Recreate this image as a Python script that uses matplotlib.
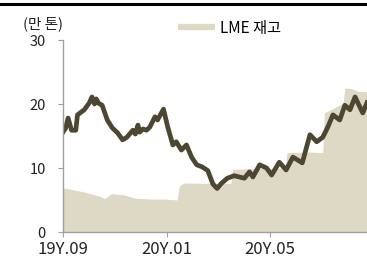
import pandas as pd
import matplotlib
matplotlib.use("Agg")
import matplotlib.pyplot as plt
from matplotlib.lines import Line2D

plt.rcParams['font.family'] = ['Noto Sans CJK KR', 'DejaVu Sans']

# dark line (no legend entry in the crop)
line_dates = ['2019-09-01', '2019-09-04', '2019-09-07', '2019-09-11', '2019-09-16', '2019-09-18',
              '2019-09-26', '2019-10-02', '2019-10-05', '2019-10-08', '2019-10-10', '2019-10-13',
              '2019-10-17', '2019-10-23', '2019-10-29', '2019-11-04', '2019-11-10',
              '2019-11-15', '2019-11-22', '2019-11-25', '2019-11-28', '2019-11-30', '2019-12-04',
              '2019-12-08', '2019-12-12', '2019-12-18', '2019-12-21', '2019-12-28', '2020-01-02',
              '2020-01-08', '2020-01-12', '2020-01-18', '2020-01-24', '2020-01-30',
              '2020-02-05', '2020-02-11', '2020-02-18', '2020-02-24', '2020-02-29',
              '2020-03-05', '2020-03-12', '2020-03-20', '2020-03-26', '2020-04-01',
              '2020-04-07', '2020-04-11', '2020-04-19', '2020-04-27', '2020-05-03',
              '2020-05-12', '2020-05-20', '2020-05-28', '2020-06-08', '2020-06-17',
              '2020-06-25', '2020-07-02', '2020-07-08', '2020-07-14', '2020-07-22',
              '2020-07-28', '2020-08-03', '2020-08-09', '2020-08-18', '2020-08-23']
line_vals = [15.6, 16.2, 17.8, 15.9, 15.9, 18.3,
             19.1, 20.2, 21.1, 20.0, 20.8, 20.1,
             19.8, 17.5, 16.25, 15.5, 14.4,
             14.8, 15.9, 15.3, 16.7, 15.6, 16.1,
             15.9, 16.4, 18.0, 17.5, 19.2, 16.4,
             13.6, 14.1, 12.8, 13.6, 11.7,
             10.5, 10.2, 9.6, 7.5, 6.8,
             7.6, 8.4, 8.8, 8.6, 8.4,
             9.4, 8.6, 10.5, 10.0, 8.9,
             10.9, 9.7, 11.7, 10.8, 15.2,
             14.1, 14.8, 16.4, 18.3, 17.5,
             19.8, 19.1, 21.1, 18.6, 20.2]

# LME stock (area)
lme_dates = ['2019-09-01', '2019-09-09', '2019-09-26', '2019-10-14', '2019-10-20',
             '2019-10-23', '2019-10-28', '2019-11-12', '2019-11-24', '2019-12-12',
             '2019-12-30', '2020-01-13', '2020-01-15', '2020-01-17', '2020-01-22',
             '2020-02-21', '2020-03-16', '2020-03-18', '2020-04-15', '2020-05-19',
             '2020-05-21', '2020-06-15', '2020-07-02', '2020-07-04', '2020-07-14',
             '2020-07-21', '2020-07-26', '2020-07-28', '2020-08-05', '2020-08-12',
             '2020-08-23']
lme_vals = [6.9, 6.7, 6.25, 5.6, 5.2,
            5.5, 6.0, 5.8, 5.3, 5.15,
            5.15, 5.0, 6.8, 7.4, 7.65,
            7.6, 7.6, 9.8, 9.9, 10.0,
            12.4, 12.5, 12.4, 18.6, 19.3,
            19.8, 20.2, 22.5, 22.4, 22.0,
            21.9]

xtick_dates = ['2019-09-01', '2020-01-01', '2020-05-01']
xtick_labels = ['19Y.09', '20Y.01', '20Y.05']

area_color = '#DDD9C5'
line_color = '#4D4731'
spine_color = '#A0A0A0'

fig = plt.figure(figsize=(3.67, 2.62), dpi=100)
ax = fig.add_axes([63 / 367, 30 / 262, 1 - 63 / 367, 192 / 262])

ax.fill_between(pd.to_datetime(lme_dates), 0, lme_vals, color=area_color, lw=0, zorder=1)
ax.plot(pd.to_datetime(line_dates), line_vals, color=line_color, lw=3.4,
        solid_joinstyle='round', zorder=2)

ax.set_xlim(pd.Timestamp('2019-09-01'), pd.Timestamp('2020-08-23'))
ax.set_ylim(0, 30)
ax.set_yticks([0, 10, 20, 30])
ax.set_xticks(pd.to_datetime(xtick_dates))
ax.set_xticklabels(xtick_labels)

for s in ['top', 'right']:
    ax.spines[s].set_visible(False)
for s in ['left', 'bottom']:
    ax.spines[s].set_color(spine_color)
    ax.spines[s].set_linewidth(1.0)
ax.tick_params(axis='y', direction='out', length=3.5, color=spine_color,
               labelsize=10.5, pad=9, labelcolor='#222222')
ax.tick_params(axis='x', direction='out', length=3.5, color=spine_color,
               labelsize=12, pad=3, labelcolor='#222222')

fig.text(23 / 367, 1 - 24 / 262, '(만 톤)', fontsize=10.5, color='#222222',
         ha='left', va='center')

handle = Line2D([], [], color=area_color, lw=4.5, solid_capstyle='butt')
fig.legend([handle], ['LME 재고'], loc='center left',
           bbox_to_anchor=(178 / 367, 1 - 28 / 262), frameon=False,
           fontsize=11, handlelength=2.4, handletextpad=0.35,
           borderpad=0, borderaxespad=0)

# thick rule across the top
fig.add_artist(Line2D([0, 1], [1 - 4 / 262, 1 - 4 / 262], transform=fig.transFigure,
                      color='black', lw=2.2))

fig.savefig('out.png', dpi=100)
